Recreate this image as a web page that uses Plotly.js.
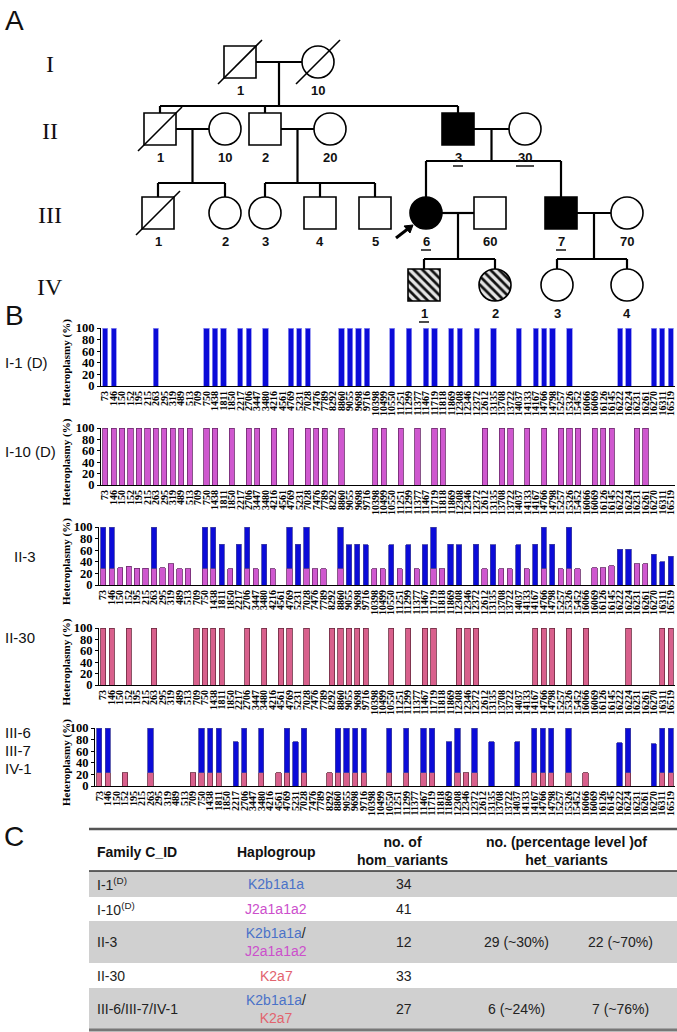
<!DOCTYPE html>
<html><head><meta charset="utf-8">
<script src="https://cdn.plot.ly/plotly-3.0.1.min.js"></script>
<style>html,body{margin:0;padding:0;background:#fff}#chart{width:677px;height:1032px}</style>
</head><body><div id="chart"></div>
<script>
// ---------------- DATA ----------------
const positions = ['73','146','150','152','195','215','263','295','319','489','513','709','750','1438','1811','1850','2217','2706','3447','3480','4216','4561','4769','5231','7028','7476','7789','8292','8860','9055','9698','9716','10398','10499','10550','11251','11299','11377','11467','11719','11818','11869','12308','12346','12372','12612','13135','13708','13722','14037','14133','14167','14766','14798','15257','15326','15452','16066','16069','16126','16145','16222','16224','16231','16261','16270','16311','16519'];
const yTicks = [0,20,40,60,80,100];

// I-1 (D): K2b1a1a variants
const i1Pos = ['73','146','263','750','1438','1811','2217','2706','3480','4769','5231','7028','8860','9055','9698','9716','10550','11299','11467','11719','11869','12308','12372','13135','14037','14167','14766','14798','15326','16222','16224','16270','16311','16519'];
const i1Val = [100,100,100,100,100,100,100,100,100,100,100,100,100,100,100,100,100,100,100,100,100,100,100,100,100,100,100,100,100,100,100,100,100,100];

// I-10 (D): J2a1a1a2 variants
const i10Pos = ['73','146','150','152','195','215','263','295','319','489','513','750','1438','1850','2706','3447','4216','4769','7028','7476','7789','8860','10398','10499','11251','11377','11719','11818','12612','13708','13722','14133','14766','15257','15326','15452','16069','16126','16145','16231','16261'];
const i10Val = [100,100,100,100,100,100,100,100,100,100,100,100,100,100,100,100,100,100,100,100,100,100,100,100,100,100,100,100,100,100,100,100,100,100,100,100,100,100,100,100,100];

// II-3: J2a1a1a2 part (at I-10 positions) and K2b1a1a part (at I-1 positions)
const ii3J = [29,29,30,32,29,29,29,30,37,28,28,29,29,28,29,28,28,29,29,28,28,29,28,28,28,28,29,28,28,28,28,28,29,28,29,28,30,30,33,37,37];
const ii3K = [71,71,71,71,71,70,70,71,70,71,70,71,71,69,70,69,69,69,69,71,70,69,70,69,69,70,71,70,71,62,62,53,40,50];

// II-30: K2a7 variants
const ii30Pos = ['73','146','152','263','709','750','1438','1811','2706','3480','4561','4769','7028','8292','8860','9055','9698','9716','10550','11299','11467','11719','12308','12346','12372','14167','14766','14798','15326','16066','16224','16311','16519'];
const ii30Val = [100,100,100,100,100,100,100,100,100,100,100,100,100,100,100,100,100,100,100,100,100,100,100,100,100,100,100,100,100,100,100,100,100];

// III-6 / III-7 / IV-1: K2a7 part (at II-30 positions) and K2b1a1a part (at I-1 positions)
const iii6A = [23,23,23,23,23,23,23,23,23,23,23,23,23,23,23,23,23,23,23,23,23,23,23,23,23,23,23,23,23,23,23,23,23];
const iii6K = [77,77,77,77,77,77,76,77,77,77,76,77,77,77,77,77,77,77,77,77,76,77,77,76,76,77,77,77,77,75,77,73,77,77];

// Table C
const tabIds = ['I-1<sup>(D)</sup>','I-10<sup>(D)</sup>','II-3','II-30','III-6/III-7/IV-1'];
const tabHaplo = [['K2b1a1a'],['J2a1a1a2'],['K2b1a1a','J2a1a1a2'],['K2a7'],['K2b1a1a','K2a7']];
const tabHom = ['34','41','12','33','27'];
const tabHet1 = ['','','29 (~30%)','','6 (~24%)'];
const tabHet2 = ['','','22 (~70%)','','7 (~76%)'];

// Pedigree
const pedigree = [
 {id:'I-1',  lab:'1',  sex:'m', gen:1, dead:true},
 {id:'I-10', lab:'10', sex:'f', gen:1, dead:true},
 {id:'II-1', lab:'1',  sex:'m', gen:2, dead:true},
 {id:'II-10',lab:'10', sex:'f', gen:2},
 {id:'II-2', lab:'2',  sex:'m', gen:2},
 {id:'II-20',lab:'20', sex:'f', gen:2},
 {id:'II-3', lab:'3',  sex:'m', gen:2, aff:true, ul:true},
 {id:'II-30',lab:'30', sex:'f', gen:2, ul:true},
 {id:'III-1',lab:'1',  sex:'m', gen:3, dead:true},
 {id:'III-2',lab:'2',  sex:'f', gen:3},
 {id:'III-3',lab:'3',  sex:'f', gen:3},
 {id:'III-4',lab:'4',  sex:'m', gen:3},
 {id:'III-5',lab:'5',  sex:'m', gen:3},
 {id:'III-6',lab:'6',  sex:'f', gen:3, aff:true, ul:true, proband:true},
 {id:'III-60',lab:'60',sex:'m', gen:3},
 {id:'III-7',lab:'7',  sex:'m', gen:3, aff:true, ul:true},
 {id:'III-70',lab:'70',sex:'f', gen:3},
 {id:'IV-1', lab:'1',  sex:'m', gen:4, hatch:true, ul:true},
 {id:'IV-2', lab:'2',  sex:'f', gen:4, hatch:true},
 {id:'IV-3', lab:'3',  sex:'f', gen:4},
 {id:'IV-4', lab:'4',  sex:'f', gen:4}
];
const families = [
 {p:['I-1','I-10'], kids:['II-1','II-2','II-3'], sib:106},
 {p:['II-1','II-10'], kids:['III-1','III-2'], sib:183},
 {p:['II-2','II-20'], kids:['III-3','III-4','III-5'], sib:183},
 {p:['II-3','II-30'], kids:['III-6','III-7'], sib:161},
 {p:['III-6','III-60'], kids:['IV-1','IV-2'], sib:259},
 {p:['III-7','III-70'], kids:['IV-3','IV-4'], sib:259}
];

// ---------------- LAYOUT GEOMETRY (pixels) ----------------
const W = 677, H = 1032;
const pedX = {'I-1':240,'I-10':318,'II-1':160,'II-10':225,'II-2':265,'II-20':330,'II-3':458,'II-30':525,
  'III-1':158,'III-2':225,'III-3':265,'III-4':320,'III-5':375,'III-6':426,'III-60':490,'III-7':561,'III-70':627,
  'IV-1':424,'IV-2':495,'IV-3':557,'IV-4':627};
const genY = {1:62, 2:129, 3:213, 4:285};
const HS = 16;
const charts = [
 {top:328,bottom:386,left:101,label:['I-1 (D)'],lx:3,ly:[362]},
 {top:428,bottom:485,left:101,label:['I-10 (D)'],lx:3,ly:[451]},
 {top:527,bottom:585,left:99,label:['II-3'],lx:12,ly:[556]},
 {top:628,bottom:685,left:99,label:['II-30'],lx:3,ly:[637]},
 {top:728,bottom:786,left:95,label:['III-6','III-7','IV-1'],lx:3,ly:[732,750,768]}
];
const RIGHT = 675;
const BLUE = '#0b0bd8', ORCHID = '#cf58cf', ROSE = '#d8608c';
const serif = 'Liberation Serif, Times New Roman, serif';
const sans = 'Liberation Sans, Arial, sans-serif';

const P = {xref:'x6', yref:'y6'};
const shapes = [], annotations = [], traces = [];
function line(x0,y0,x1,y1,w,c){shapes.push(Object.assign({type:'line',x0,y0,x1,y1,line:{color:c||'#000',width:w||2}},P));}
function text(x,y,t,font,opt){annotations.push(Object.assign({x,y,text:t,showarrow:false,font,xanchor:'center',yanchor:'middle'},P,opt||{}));}

// ---------------- BAR CHARTS ----------------
function barTrace(xs, ys, color, lc, k){
  return {type:'bar', x:xs, y:ys, xaxis:k===1?'x':'x'+k, yaxis:k===1?'y':'y'+k,
    width:0.62, marker:{color, line:{color:lc, width:0.8}}, hoverinfo:'skip'};
}
traces.push(barTrace(i1Pos, i1Val, BLUE, '#8c8cf0', 1));
traces.push(barTrace(i10Pos, i10Val, ORCHID, '#6b2a6b', 2));
traces.push(barTrace(i10Pos, ii3J, ORCHID, '#6b2a6b', 3));
traces.push(barTrace(i1Pos, ii3K, BLUE, '#4040a0', 3));
traces.push(barTrace(ii30Pos, ii30Val, ROSE, '#6b2a40', 4));
traces.push(barTrace(ii30Pos, iii6A, ROSE, '#6b2a40', 5));
traces.push(barTrace(i1Pos, iii6K, BLUE, '#4040a0', 5));

const layout = {
  width:W, height:H, margin:{l:0,r:0,t:0,b:0}, showlegend:false,
  paper_bgcolor:'#fff', plot_bgcolor:'rgba(0,0,0,0)', barmode:'stack', bargap:0.3,
  xaxis6:{domain:[0,1], range:[0,W], visible:false, anchor:'y6', fixedrange:true},
  yaxis6:{domain:[0,1], range:[H,0], visible:false, anchor:'x6', fixedrange:true}
};
charts.forEach((c,i)=>{
  const k = i+1, xs = k===1?'xaxis':'xaxis'+k, ys = k===1?'yaxis':'yaxis'+k;
  layout[xs] = {domain:[c.left/W, RIGHT/W], anchor:k===1?'y':'y'+k, type:'category',
    categoryorder:'array', categoryarray:positions, range:[-0.5, positions.length-0.5],
    tickmode:'array', tickvals:positions, ticktext:positions, tickangle:-90, ticks:'',
    tickfont:{family:serif, size:10, color:'#000', weight:'bold'},
    showline:true, linecolor:'#000', linewidth:1, showgrid:false, zeroline:false, fixedrange:true};
  layout[ys] = {domain:[1-c.bottom/H, 1-c.top/H], anchor:k===1?'x':'x'+k, range:[0,100],
    tickmode:'array', tickvals:yTicks, ticks:'outside', ticklen:3, tickwidth:1, tickcolor:'#000',
    tickfont:{family:serif, size:12.5, color:'#000', weight:'bold'},
    showline:true, linecolor:'#000', linewidth:1, showgrid:false, zeroline:false, fixedrange:true};
  text(66, (c.top+c.bottom)/2+6, 'Heteroplasmy (%)', {family:serif, size:11, color:'#000', weight:'bold'}, {textangle:-90});
  c.label.forEach((t,j)=>text(c.lx, c.ly[j], t, {family:sans, size:15, color:'#111'}, {xanchor:'left'}));
});

// ---------------- PEDIGREE ----------------
const byId = {}; pedigree.forEach(p=>byId[p.id]=p);
families.forEach(f=>{
  const a = pedX[f.p[0]], b = pedX[f.p[1]], y = genY[byId[f.p[0]].gen];
  line(a+HS, y, b-HS, y, 2.2);
  const mid = (a+b)/2;
  line(mid, y, mid, f.sib, 2.2);
  const kx = f.kids.map(k=>pedX[k]);
  line(Math.min(...kx), f.sib, Math.max(...kx), f.sib, 2.2);
  f.kids.forEach(k=>line(pedX[k], f.sib, pedX[k], genY[byId[k].gen]-HS, 2.2));
});
pedigree.forEach(p=>{
  const x = pedX[p.id], y = genY[p.gen];
  const fill = p.aff ? '#000' : (p.hatch ? 'rgba(0,0,0,0)' : '#fff');
  if (p.hatch){
    let px=[], py=[];
    if (p.sex==='m'){ px=[x-HS,x+HS,x+HS,x-HS,x-HS]; py=[y-HS,y-HS,y+HS,y+HS,y-HS]; }
    else { for(let a=0;a<=64;a++){ const t=a/64*2*Math.PI; px.push(x+HS*Math.cos(t)); py.push(y+HS*Math.sin(t)); } }
    traces.push({type:'scatter', mode:'lines', x:px, y:py, xaxis:'x6', yaxis:'y6', fill:'toself',
      fillcolor:'#e4e4e4', fillpattern:{shape:'\\', bgcolor:'#e4e4e4', fgcolor:'#111', size:6, solidity:0.45},
      line:{color:'#000', width:0}, hoverinfo:'skip'});
  }
  shapes.push(Object.assign({type:p.sex==='m'?'rect':'circle', x0:x-HS, x1:x+HS, y0:y-HS, y1:y+HS,
    fillcolor:fill, line:{color:'#000', width:1.6}}, P));
  if (p.dead) line(x-22, y+22, x+22, y-22, 1.6);
  const ly = y+HS+12;
  text(x, ly, p.lab, {family:sans, size:13, color:'#111', weight:'bold'});
  if (p.ul){ const hw = p.lab.length>1?9:5; line(x-hw, ly+9, x+hw, ly+9, 1.5, '#111'); }
  if (p.proband){
    // arrow pointing up-right at the proband
    const tx = x-13, ty = y+12, sx = x-30, sy = y+25;
    line(sx, sy, tx-4, ty+3, 3);
    shapes.push(Object.assign({type:'path', path:'M '+tx+' '+ty+' L '+(tx-9)+' '+(ty+1)+' L '+(tx-3)+' '+(ty+8)+' Z',
      fillcolor:'#000', line:{color:'#000', width:1}}, P));
  }
});
[['I',1],['II',2],['III',3],['IV',4]].forEach(([t,g])=>text(50, genY[g]+2, t, {family:serif, size:24, color:'#111'}));
text(14, 20, 'A', {family:sans, size:28, color:'#111'});
text(14, 315, 'B', {family:sans, size:28, color:'#111'});
text(14, 836, 'C', {family:sans, size:28, color:'#111'});

// ---------------- TABLE ----------------
const TL = 89, TR = 677;
const rowTop = [871, 897, 921, 963, 988], rowBot = [897, 921, 963, 988, 1030];
const hapColor = {'K2b1a1a':'#4a72c8', 'J2a1a1a2':'#cc4fcc', 'K2a7':'#e2646e'};
rowTop.forEach((t,i)=>{ if(i%2===0) shapes.push(Object.assign({type:'rect', x0:TL, x1:TR, y0:t, y1:rowBot[i], fillcolor:'#d0d0d0', line:{width:0}, layer:'below'},P)); });
line(TL, 829, TR, 829, 2.5, '#555');
line(TL, 871, TR, 871, 1.5, '#333');
line(TL, 1030, TR, 1030, 3, '#777');
const hf = {family:sans, size:14, color:'#111', weight:'bold'};
text(95, 852, 'Family C_ID', hf, {xanchor:'left'});
text(276, 852, 'Haplogroup', hf);
text(402, 851, 'no. of<br>hom_variants', hf);
text(566, 851, 'no. (percentage level )of<br>het_variants', hf);
const cf = {family:sans, size:14, color:'#222'};
rowTop.forEach((t,i)=>{
  const yc = (t+rowBot[i])/2;
  text(95, yc, tabIds[i], cf, {xanchor:'left'});
  const h = tabHaplo[i].map(s=>'<span style="color:'+hapColor[s]+'">'+s+'</span>').join('/<br>');
  text(276, yc, h, cf);
  text(404, yc, tabHom[i], cf);
  if (tabHet1[i]) text(516, yc, tabHet1[i], cf);
  if (tabHet2[i]) text(620, yc, tabHet2[i], cf);
});

layout.shapes = shapes; layout.annotations = annotations;
Plotly.newPlot('chart', traces, layout, {staticPlot:true, displayModeBar:false});
</script></body></html>
